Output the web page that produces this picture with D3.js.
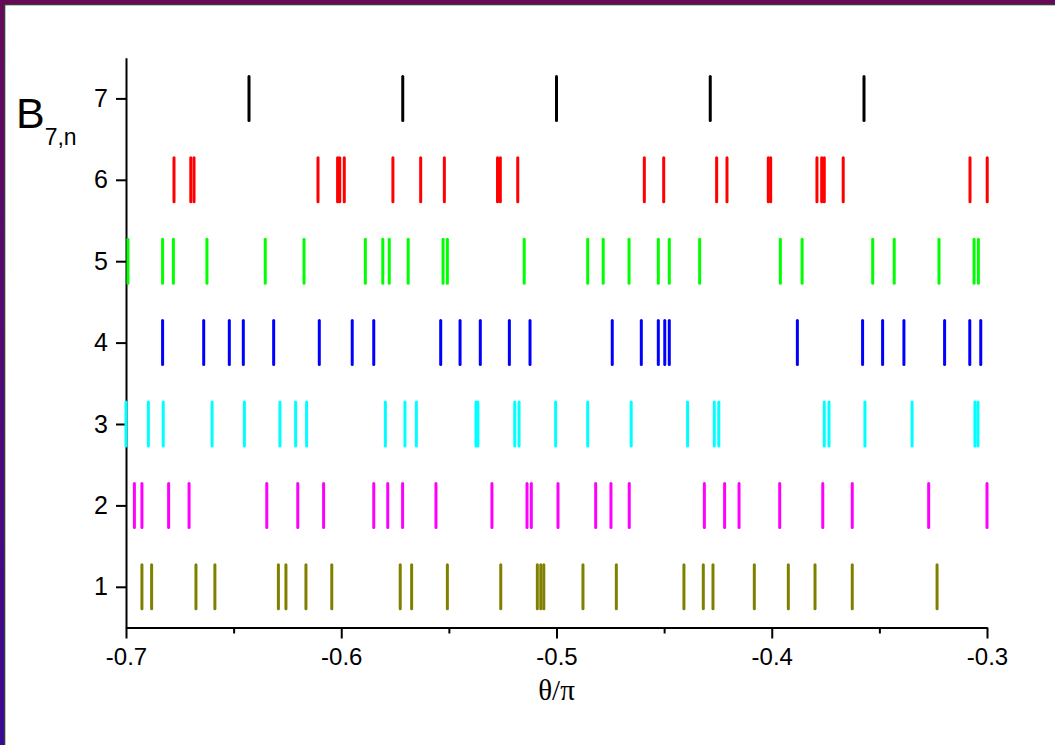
<!DOCTYPE html>
<html>
<head>
<meta charset="utf-8">
<script src="https://cdn.jsdelivr.net/npm/d3@7"></script>
<style>
  html, body { margin: 0; padding: 0; background: #fff; }
  svg { display: block; }
</style>
</head>
<body>
<svg id="chart" width="1055" height="745"></svg>
<script>
// rows of B_{7,n}: theta/pi positions for n = 1..7
const rows = [1, 2, 3, 4, 5, 6, 7];
const rowColors = ["#808000", "#ff00ff", "#00ffff", "#0000ff", "#00ff00", "#ff0000", "#000000"];

const row1 = [-0.6926, -0.6881, -0.6675, -0.6587, -0.6292, -0.6257, -0.6164, -0.6044, -0.5726, -0.5673,
  -0.5507, -0.5259, -0.5089, -0.5073, -0.5059, -0.4877, -0.4722, -0.4408, -0.4318, -0.4273,
  -0.4081, -0.3923, -0.3799, -0.3626, -0.3232];
const row2 = [-0.6961, -0.6926, -0.6802, -0.6707, -0.6346, -0.6202, -0.6082, -0.5849, -0.5784, -0.5715,
  -0.5560, -0.5300, -0.5137, -0.5117, -0.4993, -0.4818, -0.4747, -0.4662, -0.4313, -0.4219,
  -0.4152, -0.3963, -0.3763, -0.3626, -0.3271, -0.3000];
const row3 = [-0.7000, -0.6896, -0.6827, -0.6600, -0.6450, -0.6285, -0.6212, -0.6161, -0.5795, -0.5704,
  -0.5651, -0.5374, -0.5365, -0.5194, -0.5174, -0.5004, -0.4855, -0.4653, -0.4391, -0.4267,
  -0.4246, -0.3756, -0.3734, -0.3567, -0.3348, -0.3056, -0.3042];
const row4 = [-0.6830, -0.6639, -0.6520, -0.6455, -0.6314, -0.6102, -0.5949, -0.5849, -0.5538, -0.5448,
  -0.5354, -0.5219, -0.5123, -0.4741, -0.4606, -0.4527, -0.4497, -0.4476, -0.3881, -0.3578,
  -0.3485, -0.3386, -0.3197, -0.3080, -0.3029];
const row5 = [-0.6991, -0.6830, -0.6780, -0.6624, -0.6353, -0.6173, -0.5888, -0.5807, -0.5777, -0.5689,
  -0.5527, -0.5507, -0.5150, -0.4855, -0.4783, -0.4663, -0.4527, -0.4476, -0.4335, -0.3960,
  -0.3859, -0.3531, -0.3431, -0.3223, -0.3060, -0.3040];
const row6 = [-0.6777, -0.6699, -0.6684, -0.6108, -0.6017, -0.6007, -0.5986, -0.5760, -0.5631, -0.5521,
  -0.5274, -0.5261, -0.5180, -0.4592, -0.4502, -0.4256, -0.4208, -0.4016, -0.4005, -0.3790,
  -0.3768, -0.3756, -0.3668, -0.3079, -0.2999];
const row7 = [-9 / 14, -8 / 14, -7 / 14, -6 / 14, -5 / 14];

const seriesValues = [row1, row2, row3, row4, row5, row6, row7];

const xTicks = [-0.7, -0.6, -0.5, -0.4, -0.3];
const xMinorTicks = [-0.65, -0.55, -0.45, -0.35];
const yTicks = [1, 2, 3, 4, 5, 6, 7];

const svg = d3.select("#chart");
const W = 1055, H = 745;

// window frame: purple strip on top, purple->indigo strip on the left
const defs = svg.append("defs");
const grad = defs.append("linearGradient")
  .attr("id", "leftEdge").attr("x1", 0).attr("y1", 0).attr("x2", 0).attr("y2", 1);
grad.append("stop").attr("offset", "0%").attr("stop-color", "#660a58");
grad.append("stop").attr("offset", "100%").attr("stop-color", "#3a0a92");

svg.append("rect").attr("x", 0).attr("y", 0).attr("width", W).attr("height", 4).attr("fill", "#660a58");
svg.append("rect").attr("x", 0).attr("y", 0).attr("width", 4).attr("height", H).attr("fill", "url(#leftEdge)");
svg.append("rect").attr("x", 4).attr("y", 4).attr("width", W - 4).attr("height", 1.3).attr("fill", "#3a3a3a");
svg.append("rect").attr("x", 4).attr("y", 4).attr("width", 1.3).attr("height", H - 4).attr("fill", "#3a3a3a");

// plot area
const plotLeft = 126, plotRight = 987, plotTop = 57.7, plotBottom = 627.5;

const x = d3.scaleLinear().domain([-0.7, -0.3]).range([plotLeft, plotRight]);
const y = d3.scaleLinear().domain([0.5, 7.5]).range([plotBottom, plotTop]);

const fontAxis = "Arial, 'Liberation Sans', Helvetica, sans-serif";

// x axis, major ticks
const xAxis = svg.append("g")
  .attr("transform", "translate(0," + plotBottom + ")")
  .call(d3.axisBottom(x).tickValues(xTicks).tickSize(11).tickSizeOuter(0)
    .tickFormat(d3.format(".1f")).tickPadding(9));
xAxis.select(".domain").attr("stroke", "#000").attr("stroke-width", 2);
xAxis.selectAll(".tick line").attr("stroke", "#000").attr("stroke-width", 2);
xAxis.selectAll("text")
  .attr("fill", "#000")
  .style("font-family", fontAxis)
  .style("font-size", "24px")
  .text(d => d3.format(".1f")(d).replace("−", "-"));

// x axis, minor ticks
const xMinor = svg.append("g")
  .attr("transform", "translate(0," + plotBottom + ")")
  .call(d3.axisBottom(x).tickValues(xMinorTicks).tickSize(6).tickFormat(""));
xMinor.select(".domain").remove();
xMinor.selectAll(".tick line").attr("stroke", "#000").attr("stroke-width", 2);

// y axis
const yAxis = svg.append("g")
  .attr("transform", "translate(" + plotLeft + ",0)")
  .call(d3.axisLeft(y).tickValues(yTicks).tickSize(10).tickSizeOuter(0).tickPadding(8)
    .tickFormat(d3.format("d")));
yAxis.select(".domain").attr("stroke", "#000").attr("stroke-width", 2);
yAxis.selectAll(".tick line").attr("stroke", "#000").attr("stroke-width", 2);
yAxis.selectAll("text")
  .attr("fill", "#000")
  .style("font-family", fontAxis)
  .style("font-size", "25px");

// bars: one short vertical stroke per value
const halfHeight = 0.27;
seriesValues.forEach((vals, i) => {
  const n = rows[i];
  svg.append("g")
    .selectAll("line")
    .data(vals)
    .enter()
    .append("line")
    .attr("x1", d => x(d))
    .attr("x2", d => x(d))
    .attr("y1", y(n + halfHeight))
    .attr("y2", y(n - halfHeight))
    .attr("stroke", rowColors[i])
    .attr("stroke-width", 3)
    .attr("stroke-linecap", "round");
});

// axis titles
const yTitle = svg.append("text")
  .attr("x", 16)
  .attr("y", 128)
  .attr("fill", "#000")
  .style("font-family", fontAxis)
  .style("font-size", "43px");
yTitle.append("tspan").text("B");
yTitle.append("tspan")
  .attr("dy", 17)
  .style("font-size", "23px")
  .text("7,n");

svg.append("text")
  .attr("x", (plotLeft + plotRight) / 2)
  .attr("y", 700)
  .attr("text-anchor", "middle")
  .attr("fill", "#000")
  .style("font-family", "'Times New Roman', 'Liberation Serif', 'DejaVu Serif', serif")
  .style("font-size", "29px")
  .text("θ/π");
</script>
</body>
</html>
